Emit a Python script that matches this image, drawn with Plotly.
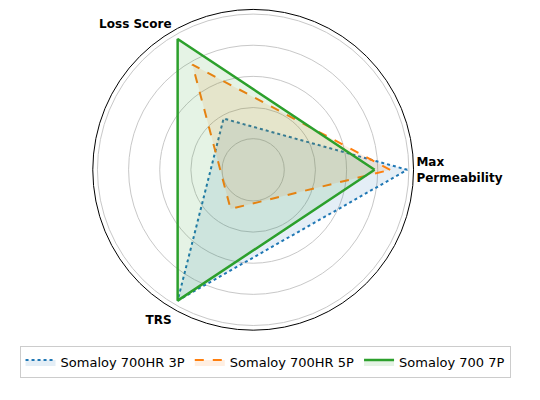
import plotly.graph_objects as go

categories = ["<b>Max<br>Permeability</b>", "<b>Loss Score</b>", "<b>TRS</b>"]
series_names = ["Somaloy 700HR 3P", "Somaloy 700HR 5P", "Somaloy 700 7P"]
v3p = [0.99, 0.38, 0.97]
v5p = [0.88, 0.78, 0.29]
v7p = [0.78, 0.97, 0.97]
angles = [0, 120, 240]

colors = ["#1f77b4", "#ff7f0e", "#2ca02c"]
fills = ["rgba(31,119,180,0.12)", "rgba(255,127,14,0.12)", "rgba(44,160,44,0.12)"]
dashes = ["dot", "dash", "solid"]
widths = [2, 2, 2.5]

fig = go.Figure()
for name, vals, c, f, d, w in zip(series_names, [v3p, v5p, v7p], colors, fills, dashes, widths):
    fig.add_trace(go.Scatterpolar(
        r=vals + vals[:1], theta=angles + angles[:1], mode="lines", name=name,
        line=dict(color=c, dash=d, width=w), fill="toself", fillcolor=f))

fig.update_layout(
    width=540, height=400, margin=dict(l=0, r=0, t=0, b=0),
    paper_bgcolor="white", font=dict(family="DejaVu Sans", size=12, color="black"),
    polar=dict(
        domain=dict(x=[0.157, 0.751], y=[0.194, 0.997]),
        bgcolor="white",
        radialaxis=dict(range=[0, 1.03], tickvals=[0.2, 0.4, 0.6, 0.8, 1.0],
                        showticklabels=False, showline=False, ticks="",
                        gridcolor="#c8c8c8", gridwidth=0.8),
        angularaxis=dict(tickmode="array", tickvals=angles, ticktext=categories,
                         direction="counterclockwise", rotation=0,
                         showgrid=False, showline=True, linecolor="black", linewidth=1,
                         ticks="", tickfont=dict(size=12)),
    ),
    legend=dict(orientation="h", x=0.476, xanchor="center", y=0.115, yanchor="middle",
                bordercolor="#cccccc", borderwidth=1, font=dict(size=13)),
)
fig.write_html("out.html")
